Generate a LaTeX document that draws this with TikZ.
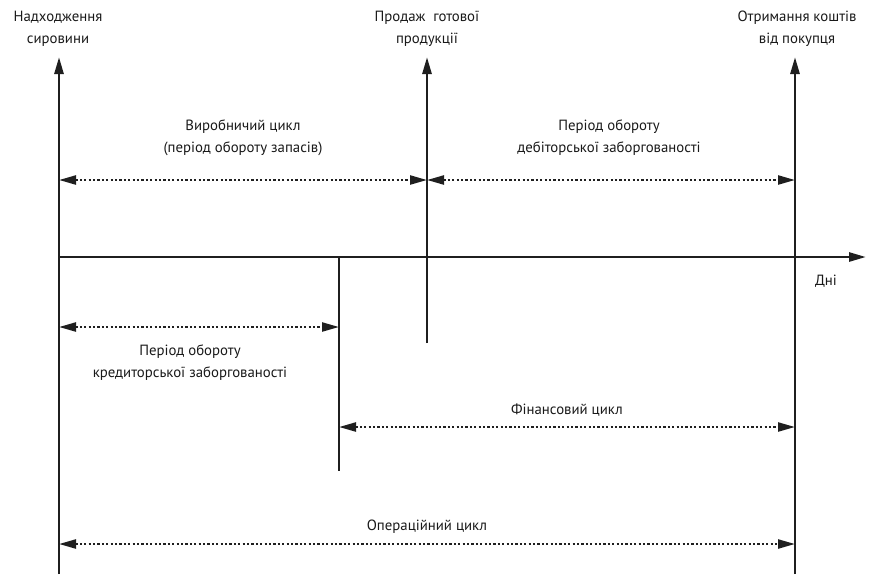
\documentclass[tikz,border=0pt]{standalone}
\usepackage{fontspec}
\setmainfont{PT Sans}
\usetikzlibrary{arrows.meta}
\begin{document}
\begin{tikzpicture}[x=1pt,y=-1pt,
  lbl/.style={align=center,inner sep=0pt,font=\fontsize{14.8}{22}\selectfont,text=black!90},
  axis/.style={line width=2.7pt,draw=black!88},
  tipsolid/.style={-{Triangle[length=17pt,width=9pt]}},
  span/.style={line width=2.3pt,draw=black!88,dash pattern=on 2.2pt off 2.2pt,{Triangle[length=17pt,width=9pt]}-{Triangle[length=17pt,width=9pt]}},
]
\useasboundingbox (0,0) rectangle (880,574);
% key coordinates
\coordinate (aTop) at (59,57);
\coordinate (aBot) at (59,574);
\coordinate (bTop) at (427,57);
\coordinate (bBot) at (427,343);
\coordinate (cTop) at (795,57);
\coordinate (cBot) at (795,574);
\coordinate (dTop) at (339,257);
\coordinate (dBot) at (339,471);
\coordinate (xL) at (59,257);
\coordinate (xR) at (866,257);
% vertical lines
\draw[axis,tipsolid] (aBot) -- (aTop);
\draw[axis,tipsolid] (bBot) -- (bTop);
\draw[axis,tipsolid] (cBot) -- (cTop);
\draw[axis] (dTop) -- (dBot);
\draw[axis,tipsolid] (xL) -- (xR);
% span end points
\coordinate (p1a) at (59,180);
\coordinate (p1b) at (427,180);
\coordinate (p1c) at (795,180);
\coordinate (p2a) at (59,327);
\coordinate (p2b) at (339,327);
\coordinate (p3a) at (339,427);
\coordinate (p3b) at (795,427);
\coordinate (p4a) at (59,544);
\coordinate (p4b) at (795,544);
\draw[span] (p1a) -- (p1b);
\draw[span] (p1b) -- (p1c);
\draw[span] (p2a) -- (p2b);
\draw[span] (p3a) -- (p3b);
\draw[span] (p4a) -- (p4b);
% labels
\node[lbl] (t1) at (58,29) {Надходження\\сировини};
\node[lbl] (t2) at (427,29) {Продаж\ \ готової\\продукції};
\node[lbl] (t3) at (797,29) {Отримання коштів\\від покупця};
\node[lbl] (t4) at (243,137.5) {Виробничий цикл\\(період обороту запасів)};
\node[lbl] (t5) at (609,137.5) {Період обороту\\дебіторської заборгованості};
\node[lbl] (t6) at (826,281) {Дні};
\node[lbl] (t7) at (190,362.5) {Період обороту\\кредиторської заборгованості};
\node[lbl] (t8) at (567,410) {Фінансовий цикл};
\node[lbl] (t9) at (427,527) {Операційний цикл};
\end{tikzpicture}
\end{document}
